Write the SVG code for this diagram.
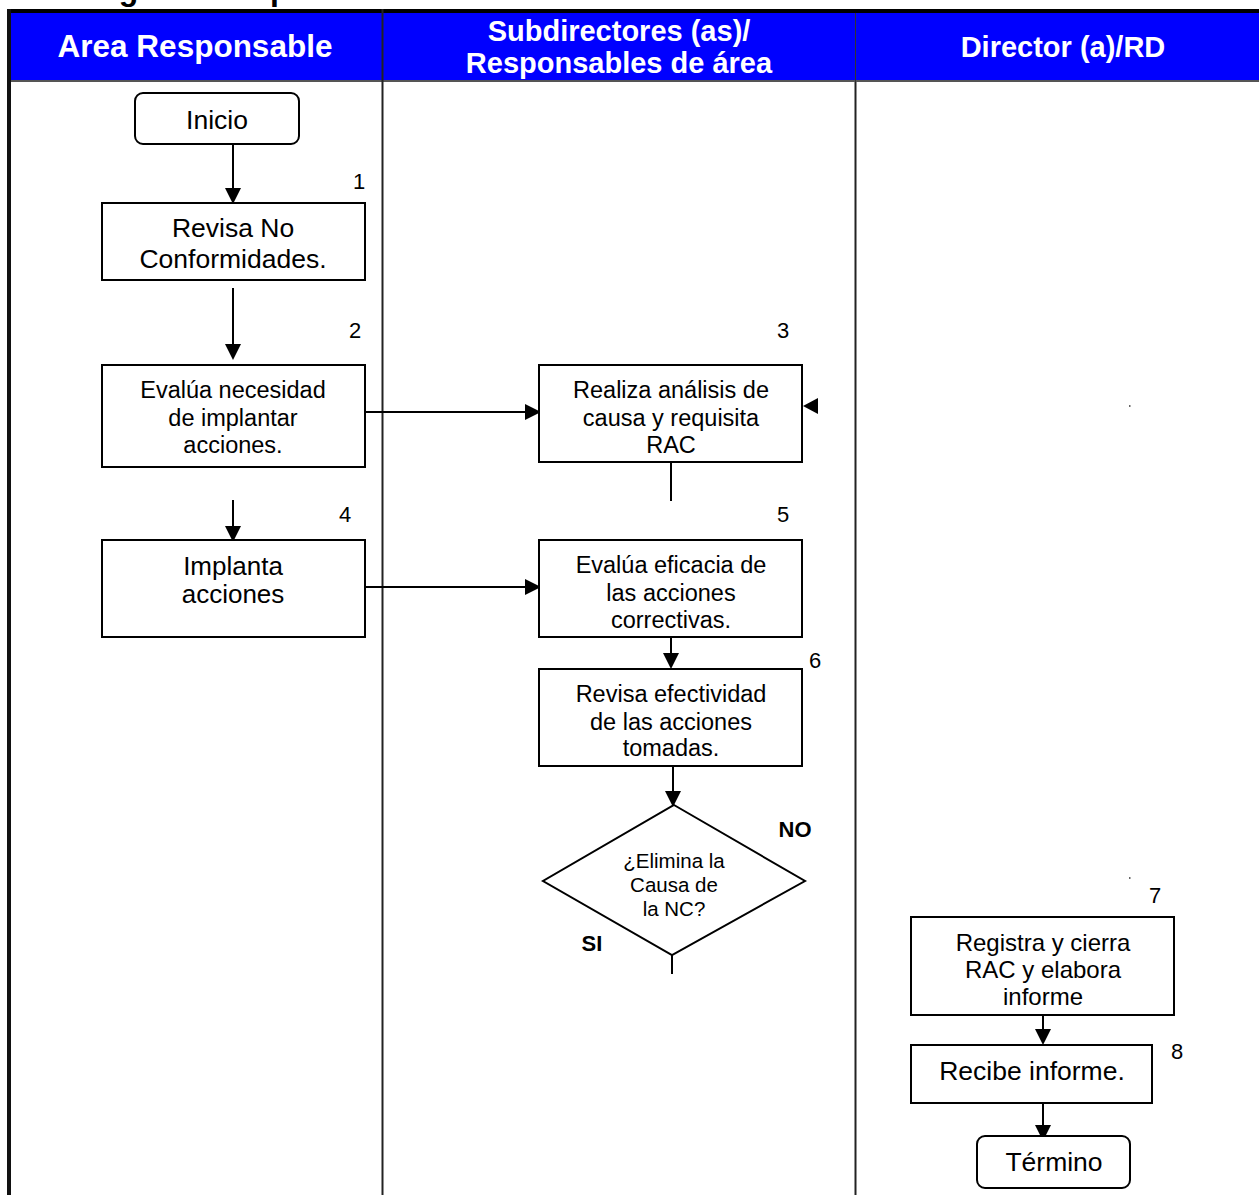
<svg xmlns="http://www.w3.org/2000/svg" width="1259" height="1195" viewBox="0 0 1259 1195">
<style>
text{font-family:"Liberation Sans",Arial,sans-serif;fill:#000;text-anchor:middle}
.hd{font-weight:bold;fill:#fff;font-size:29px}
.box{fill:#fff;stroke:#000;stroke-width:2}
.t{font-size:23.5px}
.b{font-size:26.5px}
.n{font-size:22px;text-anchor:start}
.ln{stroke:#000;stroke-width:2;fill:none}
.lane{stroke:#222;stroke-width:2}
</style>
<defs>
<marker id="ah2" markerWidth="16" markerHeight="16" refX="14" refY="8" orient="auto" markerUnits="userSpaceOnUse" viewBox="0 0 16 16">
<path d="M0,0 L16,8 L0,16 z" fill="#000"/>
</marker>
</defs>
<rect width="1259" height="1195" fill="#fff"/>
<text x="69" y="0" style="font-size:32px;font-weight:bold;text-anchor:start">Diagrama de procedimiento</text>
<g id="header">
<rect x="9" y="9" width="1250" height="5" fill="#000"/>
<rect x="11" y="13" width="1248" height="68" fill="#0000ff"/>
<rect x="9" y="80" width="1250" height="2" fill="#555"/>
<line x1="382.5" y1="9" x2="382.5" y2="82" class="lane"/>
<line x1="855.5" y1="13" x2="855.5" y2="82" stroke="#333" stroke-width="1"/>
<text class="hd" x="195" y="57" style="font-size:31.5px">Area Responsable</text>
<text class="hd" x="619" y="41">Subdirectores (as)/</text>
<text class="hd" x="619" y="73">Responsables de área</text>
<text class="hd" x="1063" y="57">Director (a)/RD</text>
</g>
<g id="lanes">
<rect x="7" y="9" width="4" height="1186" fill="#111"/>
<line x1="382.5" y1="82" x2="382.5" y2="1195" class="lane"/>
<line x1="855.5" y1="82" x2="855.5" y2="1195" class="lane"/>
</g>
<g id="connectors">
<line x1="233" y1="144" x2="233" y2="202" class="ln" marker-end="url(#ah2)"/>
<line x1="233" y1="288" x2="233" y2="358" class="ln" marker-end="url(#ah2)"/>
<line x1="365" y1="412" x2="539" y2="412" class="ln" marker-end="url(#ah2)"/>
<path d="M803,406 L818,398 L818,414 z" fill="#000"/>
<line x1="671" y1="462" x2="671" y2="501" class="ln"/>
<line x1="233" y1="500" x2="233" y2="540" class="ln" marker-end="url(#ah2)"/>
<line x1="365" y1="587" x2="539" y2="587" class="ln" marker-end="url(#ah2)"/>
<line x1="671" y1="637" x2="671" y2="667" class="ln" marker-end="url(#ah2)"/>
<line x1="673" y1="766" x2="673" y2="805" class="ln" marker-end="url(#ah2)"/>
<line x1="672" y1="955" x2="672" y2="974" class="ln"/>
<line x1="1043" y1="1015" x2="1043" y2="1043" class="ln" marker-end="url(#ah2)"/>
<line x1="1043" y1="1103" x2="1043" y2="1139" class="ln" marker-end="url(#ah2)"/>
<rect x="1129" y="405" width="1.5" height="2" fill="#666"/>
<rect x="1129" y="877" width="1.5" height="2" fill="#666"/>
</g>
<g id="inicio">
<rect class="box" x="135" y="93" width="164" height="51" rx="8"/>
<text class="b" x="217" y="129">Inicio</text>
</g>
<g id="n1">
<text class="n" x="353" y="189">1</text>
<rect class="box" x="102" y="203" width="263" height="77"/>
<text class="b" x="233" y="237">Revisa No</text>
<text class="b" x="233" y="268">Conformidades.</text>
</g>
<g id="n2">
<text class="n" x="349" y="338">2</text>
<rect class="box" x="102" y="365" width="263" height="102"/>
<text class="t" x="233" y="398">Evalúa necesidad</text>
<text class="t" x="233" y="426">de implantar</text>
<text class="t" x="233" y="453">acciones.</text>
</g>
<g id="n3">
<text class="n" x="777" y="338">3</text>
<rect class="box" x="539" y="365" width="263" height="97"/>
<text class="t" x="671" y="398">Realiza análisis de</text>
<text class="t" x="671" y="426">causa y requisita</text>
<text class="t" x="671" y="453">RAC</text>
</g>
<g id="n4">
<text class="n" x="339" y="522">4</text>
<rect class="box" x="102" y="540" width="263" height="97"/>
<text x="233" y="575" style="font-size:26px">Implanta</text>
<text x="233" y="603" style="font-size:26px">acciones</text>
</g>
<g id="n5">
<text class="n" x="777" y="522">5</text>
<rect class="box" x="539" y="540" width="263" height="97"/>
<text class="t" x="671" y="573">Evalúa eficacia de</text>
<text class="t" x="671" y="601">las acciones</text>
<text class="t" x="671" y="628">correctivas.</text>
</g>
<g id="n6">
<text class="n" x="809" y="668">6</text>
<rect class="box" x="539" y="669" width="263" height="97"/>
<text class="t" x="671" y="702">Revisa efectividad</text>
<text class="t" x="671" y="730">de las acciones</text>
<text class="t" x="671" y="756">tomadas.</text>
</g>
<g id="decision">
<path class="box" d="M674,805 L805,881 L672,955 L543,881 z"/>
<text x="674" y="868" style="font-size:20.5px">¿Elimina la</text>
<text x="674" y="892" style="font-size:20.5px">Causa de</text>
<text x="674" y="916" style="font-size:20.5px">la NC?</text>
<text x="795" y="837" style="font-size:22px;font-weight:bold">NO</text>
<text x="592" y="951" style="font-size:22px;font-weight:bold">SI</text>
</g>
<g id="n7">
<text class="n" x="1149" y="903">7</text>
<rect class="box" x="911" y="917" width="263" height="98"/>
<text x="1043" y="951" style="font-size:24px">Registra y cierra</text>
<text x="1043" y="978" style="font-size:24px">RAC y elabora</text>
<text x="1043" y="1005" style="font-size:24px">informe</text>
</g>
<g id="n8">
<text class="n" x="1171" y="1059">8</text>
<rect class="box" x="911" y="1045" width="241" height="58"/>
<text class="b" x="1032" y="1080">Recibe informe.</text>
</g>
<g id="termino">
<rect class="box" x="977" y="1136" width="153" height="52" rx="8"/>
<text class="b" x="1054" y="1171">Término</text>
</g>
</svg>
